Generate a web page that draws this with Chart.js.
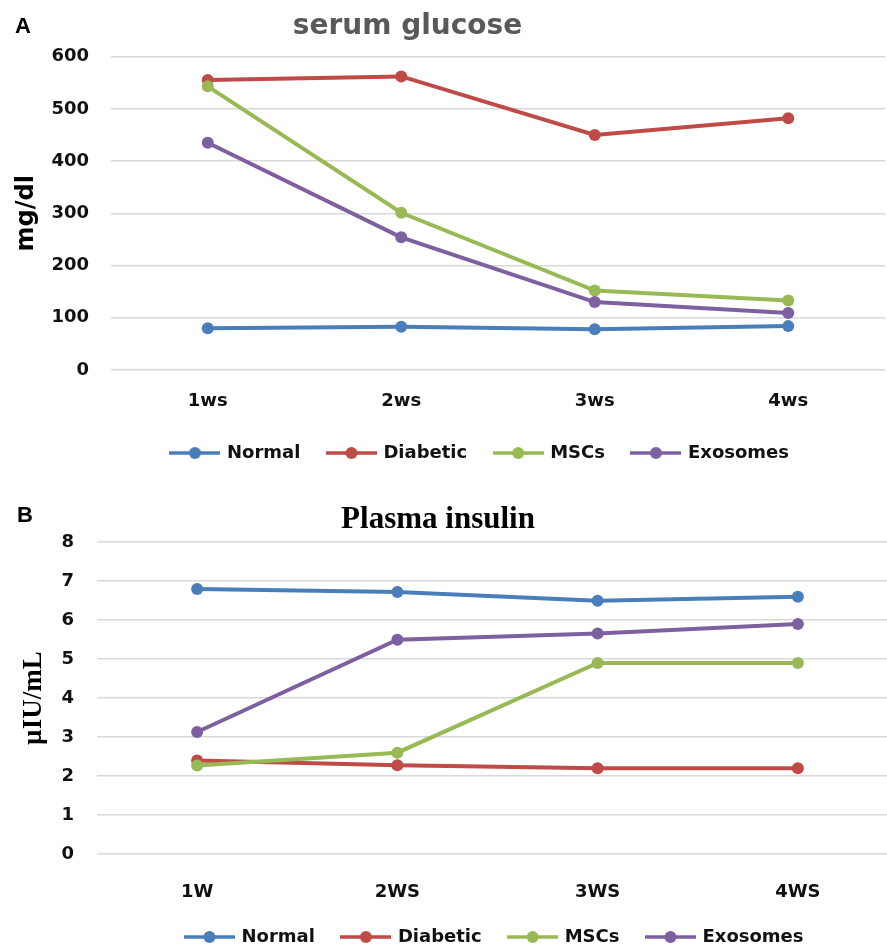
<!DOCTYPE html>
<html>
<head>
<meta charset="utf-8">
<title>serum glucose / Plasma insulin</title>
<script src="https://cdn.jsdelivr.net/npm/chart.js@4.4.0/dist/chart.umd.min.js"></script>
<style>
  html, body { margin: 0; padding: 0; background: #fff; overflow: hidden; width: 887px; height: 949px; }
  .panel { position: absolute; left: 0; }
  #panelA { top: 0; width: 891px; height: 472px; }
  #panelB { top: 472px; width: 904px; height: 484px; }
  .letter { position: absolute; font: bold 22px "Liberation Sans", Arial, sans-serif; color: #000; line-height: 1; }
</style>
</head>
<body>
<div class="panel" id="panelA"><canvas id="glucoseChart"></canvas></div>
<div class="panel" id="panelB"><canvas id="insulinChart"></canvas></div>
<div class="letter" style="left:15px;top:15px">A</div>
<div class="letter" style="left:17px;top:504px">B</div>
<script>
'use strict';

// Data - serum glucose (mg/dl)
const glucoseWeeks = ['1ws', '2ws', '3ws', '4ws'];
const glucoseTicks = [0, 100, 200, 300, 400, 500, 600];
const glucoseNormal = [80, 83, 78, 84];
const glucoseDiabetic = [555, 562, 450, 482];
const glucoseMSCs = [543, 301, 152, 133];
const glucoseExosomes = [435, 254, 130, 109];

// Data - plasma insulin (µIU/mL)
const insulinWeeks = ['1W', '2WS', '3WS', '4WS'];
const insulinTicks = [0, 1, 2, 3, 4, 5, 6, 7, 8];
const insulinNormal = [6.8, 6.72, 6.5, 6.6];
const insulinDiabetic = [2.4, 2.28, 2.2, 2.2];
const insulinMSCs = [2.27, 2.6, 4.9, 4.9];
const insulinExosomes = [3.13, 5.5, 5.66, 5.9];

const groupNames = ['Normal', 'Diabetic', 'MSCs', 'Exosomes'];
const groupColors = ['#4A7EBB', '#BE4B48', '#98B954', '#7D60A0'];

const sansFont = 'DejaVu Sans';
const serifFont = 'Liberation Serif';

// Helper: excel style legend marker (line with a dot)
function legendMarker(color){
  const c = document.createElement('canvas');
  c.width = 51;
  c.height = 14;
  const g = c.getContext('2d');
  g.strokeStyle = color;
  g.lineWidth = 3.5;
  g.beginPath();
  g.moveTo(0, 7);
  g.lineTo(51, 7);
  g.stroke();
  g.fillStyle = color;
  g.beginPath();
  g.arc(25.5, 7, 6, 0, Math.PI * 2);
  g.fill();
  return c;
}

const markers = groupColors.map(legendMarker);

// shifts legend and title sideways, excel doesn't centre them on the canvas
const blockShift = {
  id: 'blockShift',
  afterLayout(chart, args, opts){
    if(chart.legend){
      chart.legend.left += opts.legendDx;
      chart.legend.right += opts.legendDx;
    }
    if(chart.titleBlock){
      chart.titleBlock.left += opts.titleDx;
      chart.titleBlock.right += opts.titleDx;
    }
  }
};

function makeDatasets(seriesList){
  let sets = [];
  for(let i = 0; i < seriesList.length; i++){
    sets.push({
      label: groupNames[i],
      data: seriesList[i],
      borderColor: groupColors[i],
      backgroundColor: groupColors[i],
      borderWidth: 4,
      pointRadius: 6,
      pointBorderWidth: 0,
      pointBackgroundColor: groupColors[i],
      tension: 0,
      order: seriesList.length - i
    });
  }
  return sets;
}

function buildChart(canvasId, cfg){
  const ticks = cfg.ticks;
  return new Chart(document.getElementById(canvasId), {
    type: 'line',
    data: {
      labels: cfg.labels,
      datasets: makeDatasets(cfg.series)
    },
    plugins: [blockShift],
    options: {
      responsive: true,
      maintainAspectRatio: false,
      animation: false,
      layout: { padding: 0 },
      plugins: {
        blockShift: { legendDx: cfg.legendDx, titleDx: cfg.titleDx },
        tooltip: { enabled: false },
        title: {
          display: true,
          text: cfg.title,
          color: cfg.titleColor,
          font: cfg.titleFont,
          padding: cfg.titlePadding
        },
        legend: {
          position: 'bottom',
          labels: {
            usePointStyle: true,
            pointStyleWidth: 46,
            padding: 28,
            color: '#111',
            font: { family: sansFont, size: 18, weight: 'bold' },
            sort: (a, b) => a.datasetIndex - b.datasetIndex,
            generateLabels(chart){
              const items = Chart.defaults.plugins.legend.labels.generateLabels(chart);
              items.forEach(item => { item.pointStyle = markers[item.datasetIndex]; });
              return items;
            }
          }
        }
      },
      scales: {
        x: {
          offset: true,
          grid: { display: false, drawTicks: false },
          border: { display: false },
          ticks: {
            color: '#111',
            padding: cfg.xPad,
            font: { family: sansFont, size: 18, weight: 'bold' }
          },
          afterFit(scale){ scale.height = cfg.xHeight; }
        },
        y: {
          min: ticks[0],
          max: ticks[ticks.length - 1],
          grid: { color: '#d9d9d9', lineWidth: 1.5, drawTicks: false },
          border: { display: false },
          ticks: {
            stepSize: ticks[1] - ticks[0],
            color: '#111',
            padding: cfg.yPad,
            font: { family: sansFont, size: 18, weight: 'bold' }
          },
          title: {
            display: true,
            text: cfg.yTitle,
            color: '#000',
            font: cfg.yTitleFont,
            padding: { top: cfg.yTitleOffset, bottom: 0 }
          },
          afterFit(scale){ scale.width = cfg.yWidth; }
        }
      }
    }
  });
}

buildChart('glucoseChart', {
  labels: glucoseWeeks,
  ticks: glucoseTicks,
  series: [glucoseNormal, glucoseDiabetic, glucoseMSCs, glucoseExosomes],
  title: 'serum glucose',
  titleColor: '#595959',
  titleFont: { family: sansFont, size: 28, weight: 'bold' },
  titlePadding: { top: 10, bottom: 13 },
  titleDx: -38,
  yTitle: 'mg/dl',
  yTitleFont: { family: sansFont, size: 24, weight: 'bold' },
  yTitleOffset: 12,
  yWidth: 111,
  yPad: 22,
  xHeight: 46,
  xPad: 21,
  legendDx: 35
});

buildChart('insulinChart', {
  labels: insulinWeeks,
  ticks: insulinTicks,
  series: [insulinNormal, insulinDiabetic, insulinMSCs, insulinExosomes],
  title: 'Plasma insulin',
  titleColor: '#000',
  titleFont: { family: serifFont, size: 31, weight: 'bold' },
  titlePadding: { top: 29, bottom: 4 },
  titleDx: -14,
  yTitle: 'µIU/mL',
  yTitleFont: { family: serifFont, size: 27, weight: 'bold' },
  yTitleOffset: 18,
  yWidth: 97,
  yPad: 23,
  xHeight: 46,
  xPad: 28,
  legendDx: 43
});
</script>
</body>
</html>
